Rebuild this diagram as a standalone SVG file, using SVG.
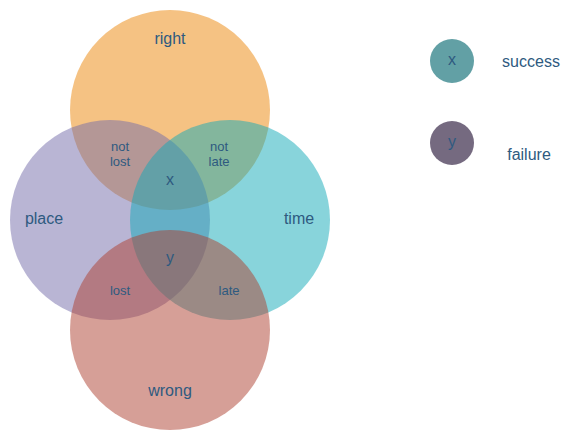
<svg xmlns="http://www.w3.org/2000/svg" width="581" height="441" viewBox="0 0 581 441">
<style>
.set{opacity:0.5}
text{font-family:"Liberation Sans",Arial,sans-serif;fill:#2e5a80;text-anchor:middle}
.big{font-size:16px}
.small{font-size:13px}
.leg{font-size:16px}
</style>
<rect width="581" height="441" fill="#ffffff"/>
<g id="right"><circle class="set" cx="170" cy="110" r="100" fill="#eb8507"/></g>
<g id="place"><circle class="set" cx="110" cy="220" r="100" fill="#736ba9"/></g>
<g id="time"><circle class="set" cx="230" cy="220" r="100" fill="#11a9b7"/></g>
<g id="wrong"><circle class="set" cx="170" cy="330" r="100" fill="#ad3f2f"/></g>
<g id="labels">
<text class="big" x="170" y="44">right</text>
<text class="big" x="44" y="224">place</text>
<text class="big" x="299" y="224">time</text>
<text class="big" x="170" y="396">wrong</text>
<text class="small" x="120" y="151">not</text>
<text class="small" x="120" y="166">lost</text>
<text class="small" x="219" y="151">not</text>
<text class="small" x="219" y="166">late</text>
<text class="big" x="170" y="185">x</text>
<text class="big" x="170" y="263">y</text>
<text class="small" x="120" y="295">lost</text>
<text class="small" x="229" y="295">late</text>
</g>
<g id="legend-success">
<circle cx="452" cy="61" r="22" fill="#62a0a5"/>
<text class="big" x="452" y="65">x</text>
<text class="leg" x="531" y="67">success</text>
</g>
<g id="legend-failure">
<circle cx="452" cy="143" r="22" fill="#756a80"/>
<text class="big" x="452" y="147">y</text>
<text class="leg" x="529" y="160">failure</text>
</g>
<g id="connectors"></g>
</svg>
